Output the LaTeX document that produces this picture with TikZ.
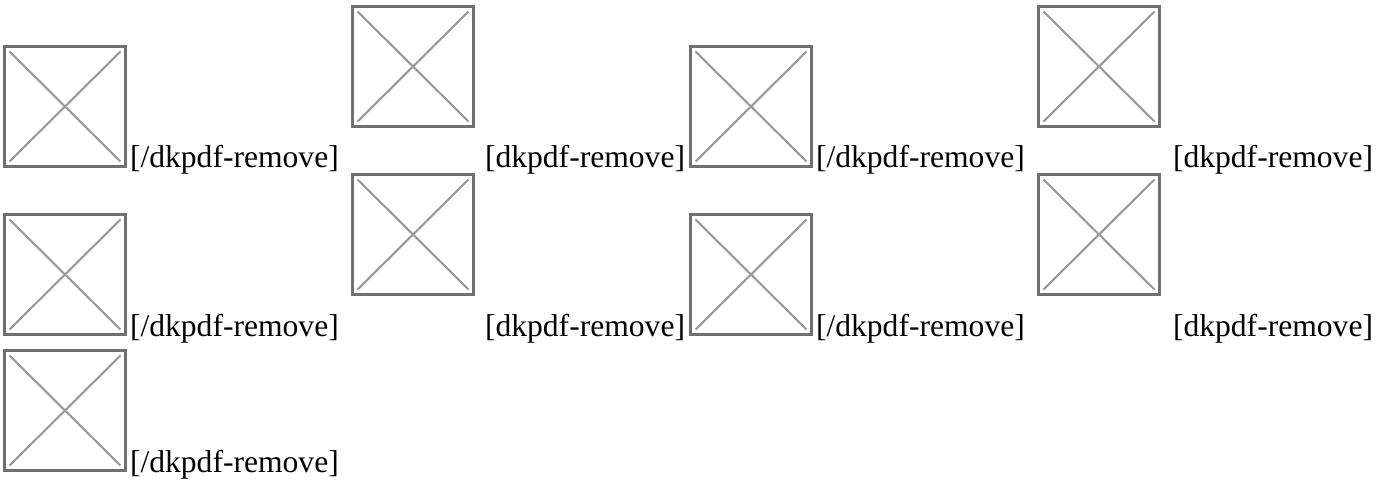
\documentclass[tikz,border=0pt]{standalone}
\usepackage{fontspec}
\setmainfont{Liberation Serif}
\definecolor{bordergray}{HTML}{707070}
\definecolor{xgray}{HTML}{999999}
\tikzset{
  imgbox/.style={draw=bordergray, line width=2.8pt, minimum width=121.2pt, minimum height=120.2pt,
    inner sep=0pt, outer sep=0pt, anchor=north west,
    path picture={
      \draw[xgray, line width=2.1pt]
        ([shift={(5pt,-5pt)}]path picture bounding box.north west) -- ([shift={(-5pt,5pt)}]path picture bounding box.south east)
        ([shift={(5pt,5pt)}]path picture bounding box.south west) -- ([shift={(-5pt,-5pt)}]path picture bounding box.north east);
    }},
  lbl/.style={anchor=base west, inner sep=0pt, outer sep=0pt, font=\fontsize{31.6}{36}\selectfont, text=black}
}
\begin{document}
\begin{tikzpicture}[x=1pt,y=-1pt]
\useasboundingbox (0,0) rectangle (1387,489);
% row 1
\node[imgbox] (b1) at (4.4,46.4) {};
\node[lbl] (t1) at (130,168) {[/dkpdf-remove]};
\node[imgbox] (b2) at (352.4,6.4) {};
\node[lbl] (t2) at (485,168) {[dkpdf-remove]};
\node[imgbox] (b3) at (690.4,46.4) {};
\node[lbl] (t3) at (816,168) {[/dkpdf-remove]};
\node[imgbox] (b4) at (1038.4,6.4) {};
\node[lbl] (t4) at (1173,168) {[dkpdf-remove]};
% row 2
\node[imgbox] (b5) at (4.4,214.4) {};
\node[lbl] (t5) at (130,336) {[/dkpdf-remove]};
\node[imgbox] (b6) at (352.4,174.4) {};
\node[lbl] (t6) at (485,336) {[dkpdf-remove]};
\node[imgbox] (b7) at (690.4,214.4) {};
\node[lbl] (t7) at (816,336) {[/dkpdf-remove]};
\node[imgbox] (b8) at (1038.4,174.4) {};
\node[lbl] (t8) at (1173,336) {[dkpdf-remove]};
% row 3
\node[imgbox] (b9) at (4.4,350.4) {};
\node[lbl] (t9) at (130,472) {[/dkpdf-remove]};
\end{tikzpicture}
\end{document}
